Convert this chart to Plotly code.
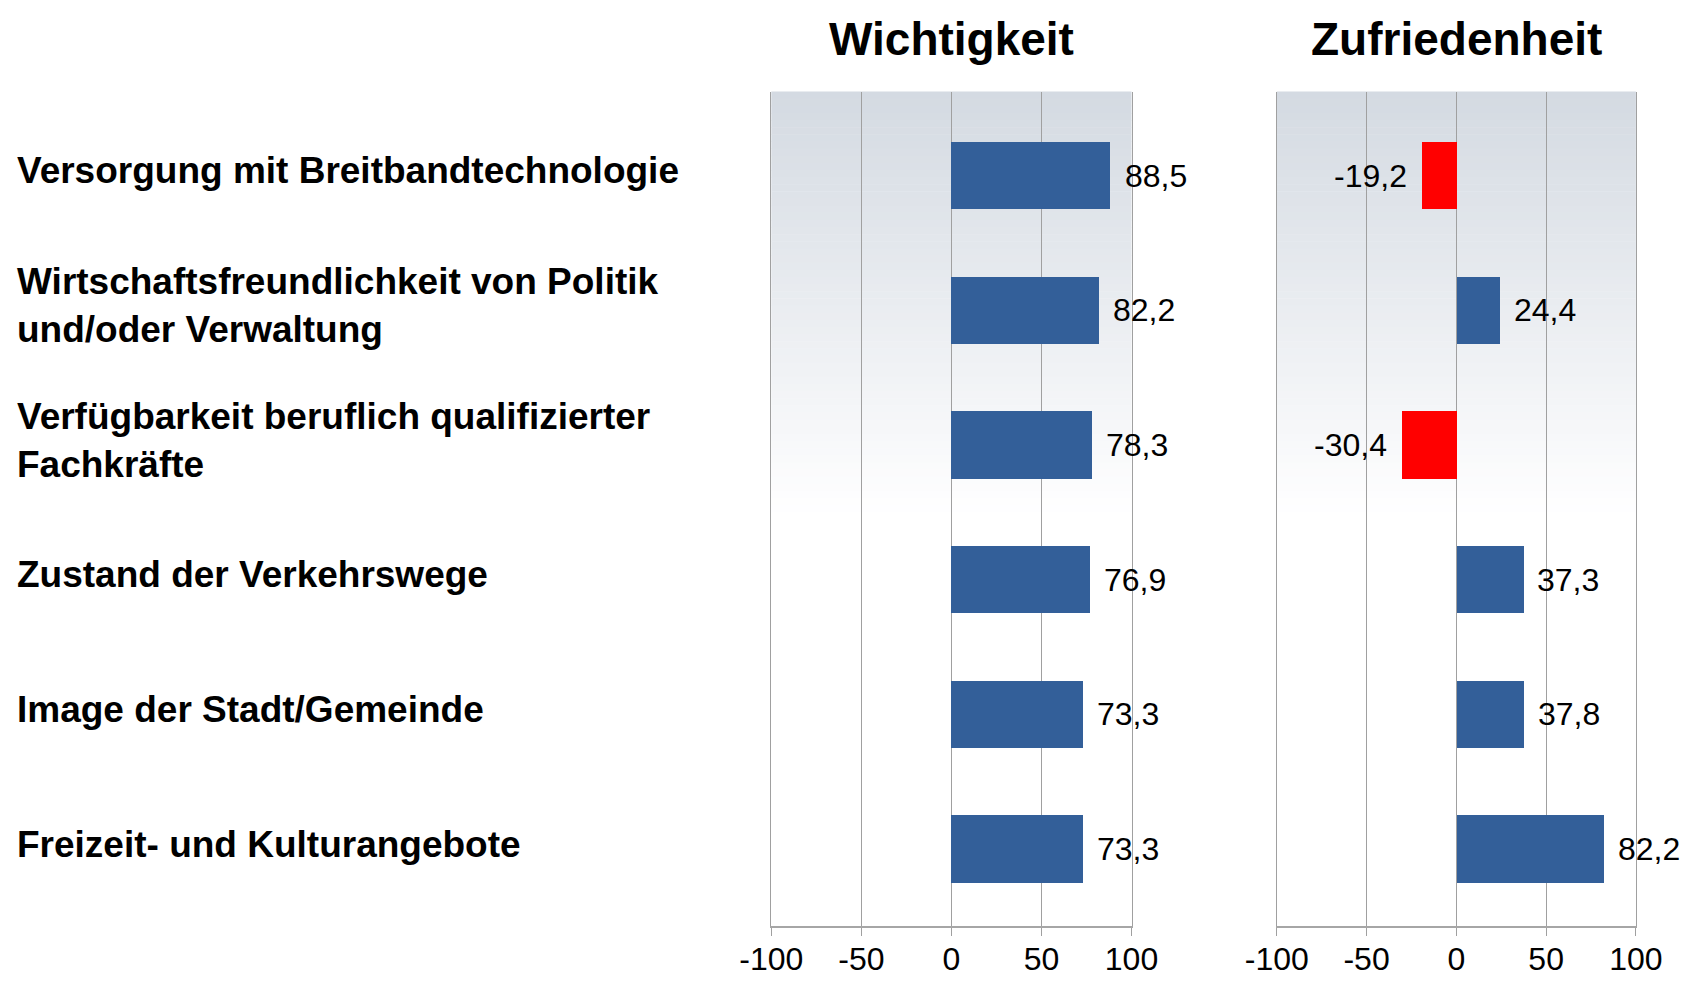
import plotly.graph_objects as go

categories = [
    "Versorgung mit Breitbandtechnologie",
    "Wirtschaftsfreundlichkeit von Politik<br>und/oder Verwaltung",
    "Verfügbarkeit beruflich qualifizierter<br>Fachkräfte",
    "Zustand der Verkehrswege",
    "Image der Stadt/Gemeinde",
    "Freizeit- und Kulturangebote",
]
wichtigkeit = [88.5, 82.2, 78.3, 76.9, 73.3, 73.3]
zufriedenheit = [-19.2, 24.4, -30.4, 37.3, 37.8, 82.2]
panel_titles = ["Wichtigkeit", "Zufriedenheit"]
tick_vals = [-100, -50, 0, 50, 100]

BLUE = "#335F99"
RED = "#FF0000"
GRID = "#A0A0A0"
FONT = "Liberation Sans, Arial, sans-serif"

# figure fits inside the page body (8px default body margin)
W, H = 1685, 971
OX, OY = 8, 8  # screen -> figure offset


def px(X):
    return (X - OX) / W


def py(Y):
    return 1 - (Y - OY) / H


dom_left = [px(771.3), px(1131.5)]
dom_right = [px(1276.8), px(1635.9)]
y_top, y_bot = 92, 926
ydom = [py(y_bot), py(y_top)]

# category centres on screen: 175.7 (first) .. 849 (last)
unit = (849 - 175.7) / 5
y_range = [5 + (y_bot - 849) / unit, -(175.7 - y_top) / unit]

pos = list(range(len(categories)))


def fmt(v):
    return f"{v:.1f}".replace(".", ",")


fig = go.Figure()
for vals, xa, ya in [(wichtigkeit, "x", "y"), (zufriedenheit, "x2", "y2")]:
    fig.add_trace(go.Bar(
        x=vals, y=pos, orientation="h", width=0.5,
        marker=dict(color=[BLUE if v >= 0 else RED for v in vals], line=dict(width=0)),
        xaxis=xa, yaxis=ya, showlegend=False, hoverinfo="skip",
    ))

annotations = []
for vals, xa, ya in [(wichtigkeit, "x", "y"), (zufriedenheit, "x2", "y2")]:
    for i, v in enumerate(vals):
        annotations.append(dict(
            x=v, y=i, xref=xa, yref=ya, text=fmt(v), showarrow=False,
            xanchor="left" if v >= 0 else "right", yanchor="middle",
            xshift=12 if v >= 0 else -13,
            font=dict(family=FONT, size=32, color="black"),
        ))

for i, c in enumerate(categories):
    annotations.append(dict(
        x=px(15), y=i, xref="paper", yref="y", text=c, showarrow=False,
        xanchor="left", yanchor="middle", align="left", yshift=5,
        font=dict(family=FONT, size=37, color="black", weight="bold"),
    ))

for t, dom in zip(panel_titles, [dom_left, dom_right]):
    annotations.append(dict(
        x=(dom[0] + dom[1]) / 2, y=py(39), xref="paper", yref="paper",
        text=t, showarrow=False, xanchor="center", yanchor="middle",
        font=dict(family=FONT, size=46, color="black", weight="bold"),
    ))

# vertical gradient background in each panel (style only)
shapes = []
top_rgb = (212, 218, 226)
g_end = 520
n = 60
for dom in [dom_left, dom_right]:
    for k in range(n):
        y0 = y_top + (g_end - y_top) * k / n
        y1 = y_top + (g_end - y_top) * (k + 1) / n
        f = k / (n - 1)
        col = tuple(round(c + (255 - c) * f) for c in top_rgb)
        shapes.append(dict(
            type="rect", xref="paper", yref="paper", layer="below",
            x0=dom[0], x1=dom[1], y0=py(y1), y1=py(y0) + 0.0005,
            fillcolor=f"rgb{col}", line=dict(width=0),
        ))

xaxis_common = dict(
    range=[-100, 100], tickvals=tick_vals, ticktext=[str(v) for v in tick_vals],
    showgrid=True, gridcolor=GRID, gridwidth=1,
    zeroline=True, zerolinecolor=GRID, zerolinewidth=1,
    showline=True, linecolor="#A6A6A6", linewidth=2,
    ticks="outside", ticklen=8, tickcolor=GRID, tickwidth=1,
    ticklabelstandoff=-4,
    tickfont=dict(family=FONT, size=32, color="black"),
    fixedrange=True, automargin=False,
)
yaxis_common = dict(
    range=y_range, showticklabels=False, showgrid=False, zeroline=False,
    showline=True, mirror=True, linecolor=GRID, linewidth=1, ticks="",
    domain=ydom, fixedrange=True, automargin=False,
)

fig.update_layout(
    width=W, height=H, autosize=False,
    margin=dict(l=0, r=0, t=0, b=0, pad=0, autoexpand=False),
    paper_bgcolor="white", plot_bgcolor="rgba(0,0,0,0)",
    xaxis=dict(domain=dom_left, anchor="y", **xaxis_common),
    xaxis2=dict(domain=dom_right, anchor="y2", **xaxis_common),
    yaxis=dict(anchor="x", **yaxis_common),
    yaxis2=dict(anchor="x2", **yaxis_common),
    annotations=annotations, shapes=shapes,
    font=dict(family=FONT),
    bargap=0,
)

fig.write_html("out.html")
